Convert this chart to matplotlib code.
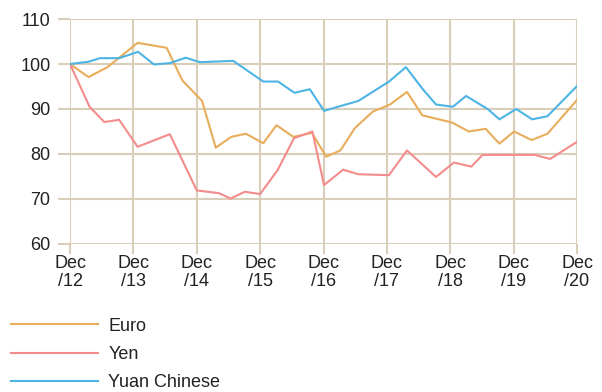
import matplotlib
matplotlib.use('Agg')
import matplotlib.pyplot as plt

plt.rcParams['font.family'] = ['Liberation Sans', 'DejaVu Sans']

# Months after Dec 2012 and index value (Dec 2012 = 100)
euro_m = [0, 3.5, 7.1, 12.8, 18.3, 21.3, 25.0, 27.6, 30.5, 33.3, 36.6, 39.1, 42.3,
          45.8, 48.5, 51.2, 53.9, 57.3, 60.6, 63.8, 66.7, 72.3, 75.5, 78.7, 81.3,
          84.1, 87.4, 90.4, 96]
euro = [100, 97.1, 99.3, 104.7, 103.6, 96.3, 91.8, 81.4, 83.8, 84.5, 82.4, 86.4, 83.8,
        84.7, 79.4, 80.8, 85.7, 89.4, 91.0, 93.8, 88.6, 87.0, 85.0, 85.6, 82.3,
        85.0, 83.1, 84.5, 92.0]

yen_m = [0, 3.7, 6.5, 9.3, 12.8, 18.9, 24.0, 28.2, 30.4, 33.1, 36.0, 39.3, 42.4,
         45.9, 48.1, 51.7, 54.6, 60.4, 63.8, 69.3, 72.7, 76.0, 78.1, 88.0, 90.9, 96]
yen = [100, 90.5, 87.1, 87.6, 81.6, 84.4, 71.9, 71.3, 70.1, 71.6, 71.1, 76.4, 83.5,
       85.0, 73.1, 76.5, 75.5, 75.3, 80.8, 74.9, 78.1, 77.2, 79.8, 79.8, 78.9, 82.7]

yuan_m = [0, 3.5, 5.7, 9.3, 12.9, 15.9, 18.9, 21.9, 24.6, 30.9, 36.6, 39.4, 42.5,
          45.4, 48.1, 54.6, 60.4, 63.6, 66.8, 69.3, 72.5, 75.0, 79.2, 81.3, 84.5,
          87.5, 90.4, 96]
yuan = [100, 100.5, 101.3, 101.3, 102.7, 99.9, 100.2, 101.4, 100.4, 100.7, 96.1, 96.1,
        93.6, 94.4, 89.6, 91.8, 96.1, 99.3, 94.4, 91.0, 90.5, 92.9, 89.9, 87.7, 90.0,
        87.7, 88.4, 95.1]

tick_m = [0, 12, 24, 36, 48, 60, 72, 84, 96]
tick_labels = ['Dec\n/12', 'Dec\n/13', 'Dec\n/14', 'Dec\n/15', 'Dec\n/16',
               'Dec\n/17', 'Dec\n/18', 'Dec\n/19', 'Dec\n/20']

grid_col = '#d8ceb9'

fig = plt.figure(figsize=(6.02, 3.92), dpi=100)
ax = fig.add_axes([0.1163, 0.3776, 0.8422, 0.5739])

ax.plot(euro_m, euro, color='#e8ad5b', lw=1.5, label='Euro')
ax.plot(yen_m, yen, color='#f48c8c', lw=1.5, label='Yen')
ax.plot(yuan_m, yuan, color='#4db4e6', lw=1.5, label='Yuan Chinese')

ax.set_xlim(0, 96)
ax.set_ylim(60, 110)
ax.set_yticks([60, 70, 80, 90, 100, 110])
ax.set_xticks(tick_m)
ax.set_xticklabels(tick_labels, linespacing=1.05)
ax.grid(True, color=grid_col, lw=1.5)
ax.set_axisbelow(True)
for s in ax.spines.values():
    s.set_visible(False)
ax.tick_params(axis='y', length=9, width=1.5, color=grid_col, pad=5, labelsize=13,
               labelcolor='#222222')
ax.tick_params(axis='x', length=7, width=1.5, color=grid_col, pad=1, labelsize=13,
               labelcolor='#222222')

# legend stacked under the axes
fig.legend(loc='upper left', bbox_to_anchor=(0.006, 0.208), frameon=False,
           fontsize=13, handlelength=4.8, handletextpad=0.6, labelspacing=0.62,
           borderaxespad=0, labelcolor='#222222')

fig.savefig('out.png', dpi=100)
